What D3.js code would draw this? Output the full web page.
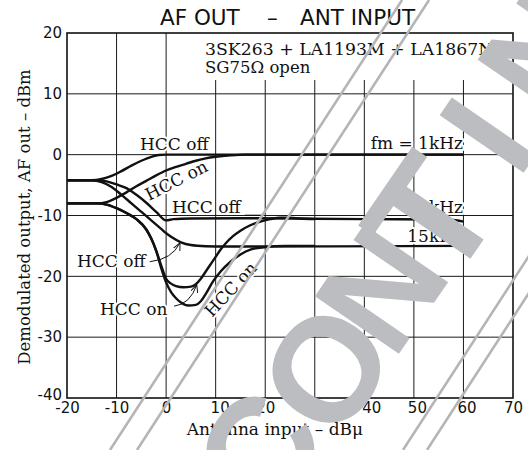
<!DOCTYPE html>
<html><head><meta charset="utf-8">
<script src="https://cdn.jsdelivr.net/npm/d3@7"></script>
<style>html,body{margin:0;padding:0;background:#fff}svg{display:block}</style>
</head><body>
<svg id="c" width="528" height="450"></svg>
<script>
// ---- data (Antenna input dBμ, Demodulated output dBm) ----
const xTicks = [-20,-10,0,10,20,30,40,50,60,70];
const yTicks = [-40,-30,-20,-10,0,10,20];
const fm1kHccOff = [[-20,-4.2],[-15,-4.2],[-13,-4.0],[-11,-3.5],[-9,-2.7],[-7,-1.8],[-5,-1.0],[-3,-0.35],[-1.5,-0.05],[0,0],[10,0],[30,0],[60,0]];
const fm1kHccOn = [[-20,-8],[-14,-8],[-12,-7.8],[-10,-7.1],[-8,-6.2],[-6,-5.2],[-4,-4.3],[-2,-3.4],[0,-2.6],[2,-2.0],[4,-1.5],[6,-1.0],[8,-0.6],[10,-0.35],[13,-0.12],[16,0],[60,0]];
const fm10kHccOff = [[-20,-4.2],[-14,-4.2],[-12,-4.4],[-10,-4.9],[-8,-5.5],[-6,-6.6],[-4,-7.9],[-2,-9.4],[0,-10.8],[1.5,-10.6],[5,-10.5],[15,-10.45],[25,-10.5],[40,-10.6],[55,-10.65],[58,-10.75],[60,-11.0]];
const fm15kHccOff = [[-20,-4.2],[-15,-4.2],[-13,-4.5],[-11,-5.3],[-9,-6.6],[-7,-8.0],[-5,-9.4],[-3,-10.8],[-1,-12.2],[0,-12.9],[1,-13.5],[3,-14.4],[5,-14.85],[8,-15.05],[12,-15.1],[60,-15]];
const fm10kHccOn = [[-20,-8],[-14,-8],[-12,-8.2],[-10,-8.8],[-8,-9.6],[-6,-10.6],[-4,-12.3],[-3,-13.8],[-2,-15.8],[-1,-18.2],[0,-20.4],[1,-21.2],[2,-21.6],[3.5,-21.8],[5,-21.7],[6,-21.3],[7,-20.4],[8,-19.2],[9,-18],[10,-16.8],[11,-15.6],[12,-14.6],[13.5,-13.4],[15,-12.5],[17,-11.6],[19,-11.0],[21,-10.6],[23,-10.35],[25,-10.35],[27,-10.5],[30,-10.6]];
const fm15kHccOn = [[-20,-8],[-14,-8],[-12,-8.2],[-10,-8.8],[-8,-9.6],[-6,-10.6],[-4,-12.3],[-3,-13.8],[-2,-15.8],[-1,-18.6],[0,-21],[1,-22.6],[2,-23.6],[3,-24.3],[4.5,-24.8],[6,-24.7],[7,-24.1],[8,-22.9],[9.5,-20.8],[11,-19.2],[13,-17.6],[15,-16.4],[17,-15.6],[20,-15.2],[24,-15],[30,-15]];
const seriesList = [fm1kHccOff, fm1kHccOn, fm10kHccOff, fm15kHccOff, fm10kHccOn, fm15kHccOn];

const svg = d3.select("#c");
const x = d3.scaleLinear().domain([-20,70]).range([67,513]);
const y = d3.scaleLinear().domain([-40,20]).range([398,33]);

const serif = "'DejaVu Serif', serif";
const sans = "'DejaVu Sans', sans-serif";

// grid
const grid = svg.append("g").attr("stroke","#1a1a1a").attr("stroke-width",1);
grid.selectAll("line.v").data(xTicks.filter(d=>d>-20 && d<70)).join("line")
  .attr("x1",d=>x(d)).attr("x2",d=>x(d))
  .attr("y1",d=> d>=10 ? 80 : y(20)).attr("y2",y(-40));
grid.selectAll("line.h").data(yTicks.filter(d=>d>-40 && d<20)).join("line")
  .attr("x1",x(-20)).attr("x2",x(70)).attr("y1",d=>y(d)).attr("y2",d=>y(d));
svg.append("rect").attr("x",x(-20)).attr("y",y(20)).attr("width",x(70)-x(-20)).attr("height",y(-40)-y(20))
  .attr("fill","none").attr("stroke","#111").attr("stroke-width",1.6);

// axes
const ax = svg.append("g").attr("transform",`translate(0,${y(-40)})`)
  .call(d3.axisBottom(x).tickValues(xTicks).tickSize(0).tickPadding(4).tickFormat(d=>String(d)));
const ay = svg.append("g").attr("transform",`translate(${x(-20)},0)`)
  .call(d3.axisLeft(y).tickValues(yTicks).tickSize(0).tickPadding(5).tickFormat(d=>String(d)));
[ax,ay].forEach(g=>{g.select(".domain").remove();
  g.selectAll("text").attr("font-family",sans).attr("font-size",15).attr("fill","#111");});
ay.selectAll(".tick").filter(d=>d===-40).select("text").attr("dy","0.12em");
const xLabelNudge = {10:4, 40:7, 50:3, 60:3};
ax.selectAll(".tick text").attr("dx",d=>xLabelNudge[d]||0);

// titles
svg.append("text").attr("x",160).attr("y",25).attr("font-family",sans).attr("font-size",21.5).attr("fill","#111").text("AF OUT");
svg.append("text").attr("x",267).attr("y",25).attr("font-family",sans).attr("font-size",21.5).attr("fill","#111").text("–");
svg.append("text").attr("x",300).attr("y",25).attr("font-family",sans).attr("font-size",21.5).attr("fill","#111").text("ANT INPUT");
svg.append("text").attr("transform","translate(30,217) rotate(-90)").attr("text-anchor","middle")
  .attr("font-family",serif).attr("font-size",16.5).attr("fill","#111").text("Demodulated output, AF out – dBm");
svg.append("text").attr("x",275).attr("y",435).attr("text-anchor","middle")
  .attr("font-family",serif).attr("font-size",17).attr("fill","#111").text("Antenna input – dBμ");

// annotations
const ann = svg.append("g").attr("font-family",serif).attr("font-size",17).attr("fill","#111")
  .attr("stroke","#fff").attr("stroke-width",4).attr("paint-order","stroke").attr("stroke-linejoin","round");
ann.append("text").attr("x",205).attr("y",55).attr("font-size",16.5).attr("textLength",306).attr("lengthAdjust","spacingAndGlyphs").text("3SK263 + LA1193M + LA1867NM");
ann.append("text").attr("x",205).attr("y",73).attr("font-size",16.5).text("SG75Ω open");
ann.append("text").attr("x",140).attr("y",150).text("HCC off");
ann.append("text").attr("x",463).attr("y",149).attr("text-anchor","end").text("fm = 1kHz");
ann.append("text").attr("transform","translate(149,201) rotate(-27)").text("HCC on");
ann.append("text").attr("x",172).attr("y",213).text("HCC off");
ann.append("text").attr("x",463).attr("y",213).attr("text-anchor","end").text("10kHz");
ann.append("text").attr("x",463).attr("y",242).attr("text-anchor","end").text("15kHz");
ann.append("text").attr("x",77).attr("y",267).text("HCC off");
ann.append("text").attr("x",100).attr("y",315).text("HCC on");
ann.append("text").attr("transform","translate(212,318) rotate(-47)").text("HCC on");

// leader lines / arrows
svg.append("defs").append("marker").attr("id","ah").attr("viewBox","0 0 8 8").attr("refX",7.5).attr("refY",4)
  .attr("markerWidth",8).attr("markerHeight",8).attr("markerUnits","userSpaceOnUse").attr("orient","auto")
  .append("path").attr("d","M0,0.5 L7.5,4 L0,7.5").attr("fill","none").attr("stroke","#111").attr("stroke-width",1);
const q = (a,c,b)=>`M${x(a[0])},${y(a[1])} Q${x(c[0])},${y(c[1])} ${x(b[0])},${y(b[1])}`;
svg.append("path").attr("d",q([-3.3,-17.6],[1.2,-17.2],[2.8,-14.5])).attr("fill","none").attr("stroke","#111").attr("stroke-width",1).attr("marker-end","url(#ah)");
svg.append("path").attr("d",q([1.6,-24.9],[4.8,-24.6],[6.2,-21.4])).attr("fill","none").attr("stroke","#111").attr("stroke-width",1).attr("marker-end","url(#ah)");
svg.append("line").attr("x1",x(15.9)).attr("x2",x(19.4)).attr("y1",y(-9.95)).attr("y2",y(-9.95)).attr("stroke","#111").attr("stroke-width",1);

// curves
const line = d3.line().x(d=>x(d[0])).y(d=>y(d[1])).curve(d3.curveMonotoneX);
svg.append("g").selectAll("path").data(seriesList).join("path")
  .attr("d",line).attr("fill","none").attr("stroke","#111").attr("stroke-width",2.4).attr("stroke-linejoin","round");

// watermark: visible letters of the rotated stamp, placed along a rotated baseline
const wmLetters = ["C","O","N","T","I","N"];
const wmAlong = [-100,0,97,184,284,384];   // distance along the baseline from the "O"
const wmShiftX = [-11,0,0,0,0,0];
const wmSize = [148,148,148,162,148,148];
const ang = 55.5*Math.PI/180, ux = Math.cos(ang), uy = -Math.sin(ang);
const ox = 325, oy = 368;
const wm = svg.append("g").attr("pointer-events","none");
wm.selectAll("text").data(wmLetters).join("text")
  .attr("transform",(d,i)=>`translate(${ox+wmAlong[i]*ux+wmShiftX[i]},${oy+wmAlong[i]*uy}) rotate(-55.5)`)
  .attr("x",0).attr("y",(d,i)=>0.716*wmSize[i]/2).attr("text-anchor","middle")
  .attr("font-family","'Liberation Sans', Arial, sans-serif").attr("font-weight","bold")
  .attr("font-size",(d,i)=>wmSize[i]).attr("fill","#bcbdc0").text(d=>d);
const k = 0.649;
[110,137,403,427].forEach(b=>{
  wm.append("line").attr("x1",b).attr("y1",450).attr("x2",b+450*k).attr("y2",0)
    .attr("stroke","#b4b5b8").attr("stroke-width",2.6);
});
</script>
</body></html>
